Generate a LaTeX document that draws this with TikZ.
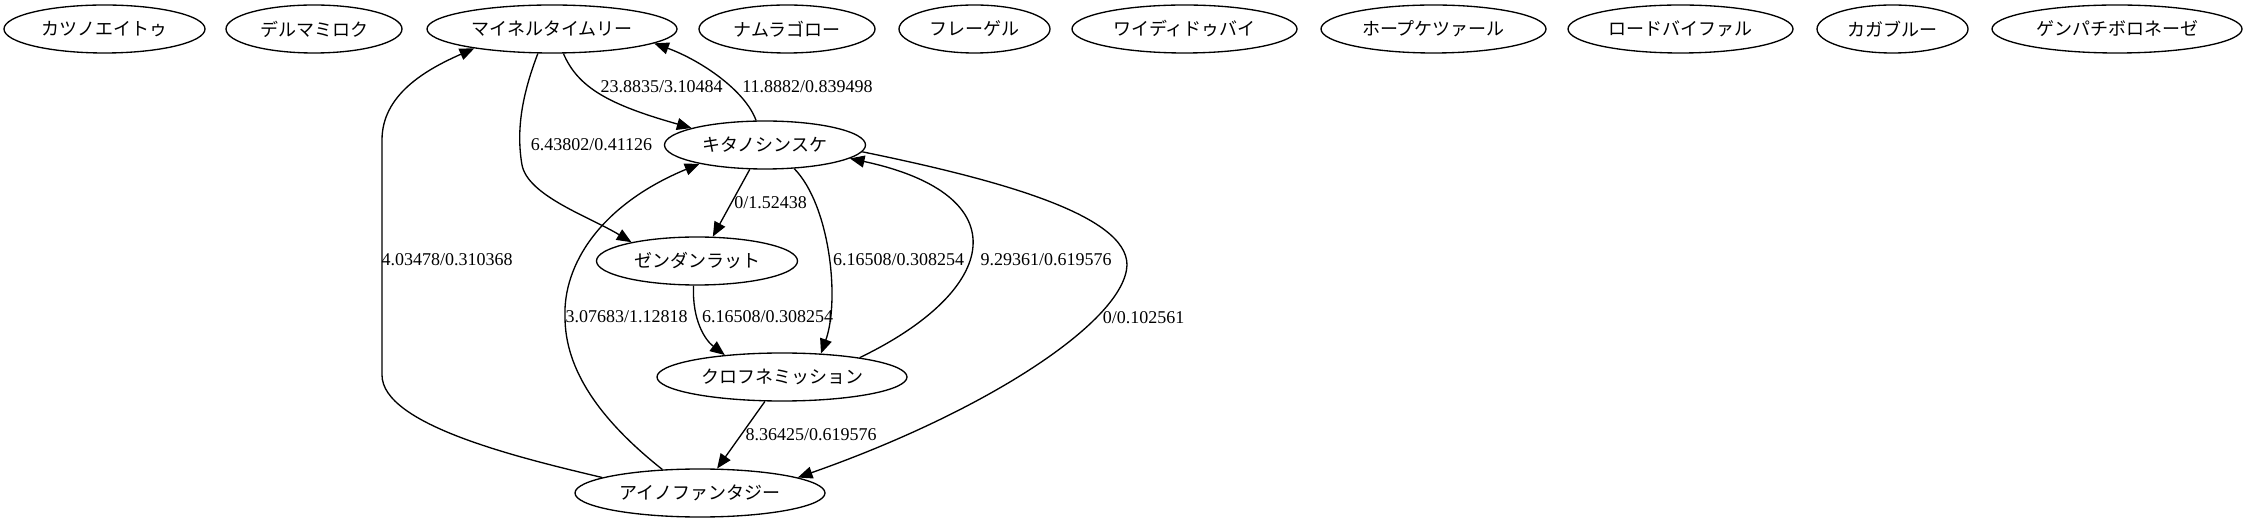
\documentclass[tikz,border=0pt]{standalone}
\usepackage{fontspec}
\setmainfont{Liberation Serif}
\newfontfamily\jp{Noto Sans CJK JP}
\usetikzlibrary{shapes.geometric,arrows.meta}

\begin{document}
\begin{tikzpicture}[x=0.75pt,y=-0.75pt,
    horse/.style={draw,ellipse,line width=1pt,inner sep=0pt,minimum height=36pt,
        font=\fontsize{13.5}{16}\selectfont\jp},
    score/.style={inner sep=0pt,font=\fontsize{13.5}{16}\selectfont},
    race/.style={line width=1pt,-{Triangle[length=11pt,width=9pt]}}]
\useasboundingbox (0,0) rectangle (2247,523);
%\draw[help lines] (0,0) grid[step=100] (2247,523);
\node[horse,minimum width=150.75pt] (kat) at (104.5,29) {カツノエイトゥ};
\node[horse,minimum width=132pt] (del) at (314,29) {デルマミロク};
\node[horse,minimum width=187.5pt] (mai) at (552,29) {マイネルタイムリー};
\node[horse,minimum width=132pt] (nam) at (787,29) {ナムラゴロー};
\node[horse,minimum width=113.25pt] (fre) at (974.5,29) {フレーゲル};
\node[horse,minimum width=168.75pt] (wai) at (1184.5,29) {ワイディドゥバイ};
\node[horse,minimum width=168.75pt] (hop) at (1433.5,29) {ホープケツァール};
\node[horse,minimum width=168.75pt] (rod) at (1680.5,29) {ロードバイファル};
\node[horse,minimum width=113.25pt] (kag) at (1892.5,29) {カガブルー};
\node[horse,minimum width=187.5pt] (gen) at (2117,29) {ゲンパチボロネーゼ};
\node[horse,minimum width=150.75pt] (kit) at (765,145) {キタノシンスケ};
\node[horse,minimum width=150.75pt] (zen) at (697,261) {ゼンダンラット};
\node[horse,minimum width=187.5pt] (kur) at (782,377) {クロフネミッション};
\node[horse,minimum width=187.5pt] (ain) at (700,493) {アイノファンタジー};

\draw[race] (mai.-65) .. controls (578,88) and (610,105) .. (kit.167);
\draw[race] (kit.110) .. controls (745,90) and (700,60) .. (mai.-8);
\draw[race] (mai.-120) .. controls (522,95) and (516,130) .. (522,165)
    .. controls (528,196) and (590,217) .. (zen.164);
\draw[race] (ain.171) .. controls (520,458) and (382,425) .. (382,375) -- (382,140)
    .. controls (382,95) and (425,70) .. (mai.194);
\draw[race] (ain.148) .. controls (600,420) and (565,370) .. (565,317)
    .. controls (563,265) and (600,205) .. (kit.196);
\draw[race] (kit.-122) -- (zen.57);
\draw[race] (kit.-39) .. controls (830,205) and (840,300) .. (kur.31);
\draw[race] (zen.-98) .. controls (692,320) and (705,340) .. (kur.159);
\draw[race] (kur.14) .. controls (1000,290) and (1020,195) .. (kit.-9);
\draw[race] (kit.-4) .. controls (1000,180) and (1127,215) .. (1127,265)
    .. controls (1125,320) and (990,410) .. (ain.9);
\draw[race] (kur.-125) -- (ain.55);

\node[score] (l1) at (661.5,87) {23.8835/3.10484};
\node[score] (l2) at (807.5,87) {11.8882/0.839498};
\node[score] (l3) at (591.5,145) {6.43802/0.41126};
\node[score] (l4) at (447,260) {4.03478/0.310368};
\node[score] (l5) at (626.5,317) {3.07683/1.12818};
\node[score] (l6) at (770.5,203) {0/1.52438};
\node[score] (l7) at (898.5,260) {6.16508/0.308254};
\node[score] (l8) at (767.5,317) {6.16508/0.308254};
\node[score] (l9) at (1046,260) {9.29361/0.619576};
\node[score] (l10) at (1143.5,318) {0/0.102561};
\node[score] (l11) at (811,435) {8.36425/0.619576};
\end{tikzpicture}
\end{document}
